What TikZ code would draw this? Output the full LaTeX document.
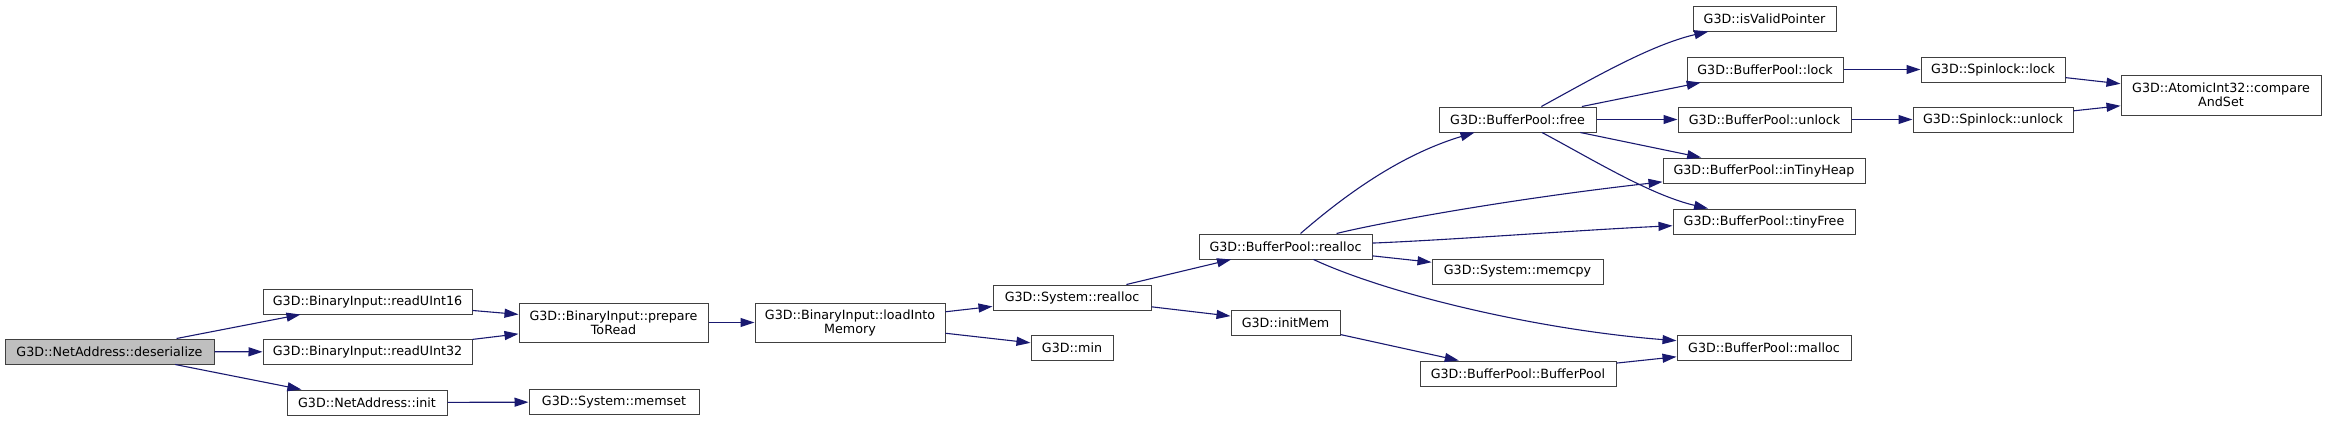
\documentclass[tikz,border=0pt]{standalone}
\usepackage{fontspec}
\newfontfamily\dvfont{DejaVu Sans}
\usetikzlibrary{arrows.meta}
\definecolor{edgeblue}{HTML}{191970}
\definecolor{boxline}{HTML}{404040}
\definecolor{boxfill}{HTML}{BFBFBF}
\tikzset{
  fn/.style={draw=boxline, line width=1pt, fill=white, inner sep=0pt, minimum height=25pt,
    font=\dvfont\fontsize{12.7}{14}\selectfont, align=center},
  cur/.style={fn, fill=boxfill},
  call/.style={draw=edgeblue, line width=1.1pt, -{Triangle[length=14pt,width=9pt]}}
}
\begin{document}
\begin{tikzpicture}[x=1pt,y=-1pt]
\useasboundingbox (0,0) rectangle (2327,421);
\node[cur, minimum width=209pt] (des) at (109.5,351.5) {G3D::NetAddress::deserialize};
\node[fn, minimum width=209pt] (ru16) at (367.5,301.5) {G3D::BinaryInput::readUInt16};
\node[fn, minimum width=209pt] (ru32) at (367.5,352) {G3D::BinaryInput::readUInt32};
\node[fn, minimum width=160pt] (init) at (367,402.5) {G3D::NetAddress::init};
\node[fn, minimum width=189pt, minimum height=39pt] (prep) at (613.5,322.5) {G3D::BinaryInput::prepare\\ToRead};
\node[fn, minimum width=170pt] (memset) at (614,402) {G3D::System::memset};
\node[fn, minimum width=190pt, minimum height=39pt] (load) at (850,322.5) {G3D::BinaryInput::loadInto\\Memory};
\node[fn, minimum width=158pt] (srealloc) at (1072,297.5) {G3D::System::realloc};
\node[fn, minimum width=82pt] (min) at (1072,347.5) {G3D::min};
\node[fn, minimum width=173pt] (brealloc) at (1285.5,246.5) {G3D::BufferPool::realloc};
\node[fn, minimum width=109pt] (initmem) at (1285.5,322.5) {G3D::initMem};
\node[fn, minimum width=157pt] (free) at (1517.5,119.5) {G3D::BufferPool::free};
\node[fn, minimum width=171pt] (memcpy) at (1517.5,271.5) {G3D::System::memcpy};
\node[fn, minimum width=196pt] (bpctor) at (1518,373.5) {G3D::BufferPool::BufferPool};
\node[fn, minimum width=143pt] (isvalid) at (1764.5,18.5) {G3D::isValidPointer};
\node[fn, minimum width=156pt] (lock) at (1765,69.5) {G3D::BufferPool::lock};
\node[fn, minimum width=173pt] (unlock) at (1764.5,119.5) {G3D::BufferPool::unlock};
\node[fn, minimum width=202pt] (intiny) at (1764,170.5) {G3D::BufferPool::inTinyHeap};
\node[fn, minimum width=182pt] (tinyfree) at (1764,221.5) {G3D::BufferPool::tinyFree};
\node[fn, minimum width=174pt] (malloc) at (1764,347.5) {G3D::BufferPool::malloc};
\node[fn, minimum width=144pt] (slock) at (1993,69.5) {G3D::Spinlock::lock};
\node[fn, minimum width=160pt] (sunlock) at (1993,119.5) {G3D::Spinlock::unlock};
\node[fn, minimum width=200pt, minimum height=40pt] (cas) at (2221,95) {G3D::AtomicInt32::compare\\AndSet};

\draw[call] (des) -- (ru16);
\draw[call] (des) -- (ru32);
\draw[call] (des) -- (init);
\draw[call] (ru16) -- (prep);
\draw[call] (ru32) -- (prep);
\draw[call] (init) -- (memset);
\draw[call] (prep) -- (load);
\draw[call] (load) -- (srealloc);
\draw[call] (load) -- (min);
\draw[call] (srealloc) -- (brealloc);
\draw[call] (srealloc) -- (initmem);
\draw[call] (brealloc) .. controls (1345,195) and (1400,155) .. (free);
\draw[call] (brealloc) .. controls (1370,225) and (1500,200) .. (intiny);
\draw[call] (brealloc) .. controls (1450,240) and (1580,230) .. (tinyfree);
\draw[call] (brealloc) -- (memcpy);
\draw[call] (brealloc) .. controls (1390,295) and (1540,330) .. (malloc);
\draw[call] (initmem) -- (bpctor);
\draw[call] (bpctor) -- (malloc);
\draw[call] (free) .. controls (1590,80) and (1650,45) .. (isvalid);
\draw[call] (free) -- (lock);
\draw[call] (free) -- (unlock);
\draw[call] (free) -- (intiny);
\draw[call] (free) .. controls (1590,158) and (1650,195) .. (tinyfree);
\draw[call] (lock) -- (slock);
\draw[call] (unlock) -- (sunlock);
\draw[call] (slock) -- (cas);
\draw[call] (sunlock) -- (cas);
\end{tikzpicture}
\end{document}
